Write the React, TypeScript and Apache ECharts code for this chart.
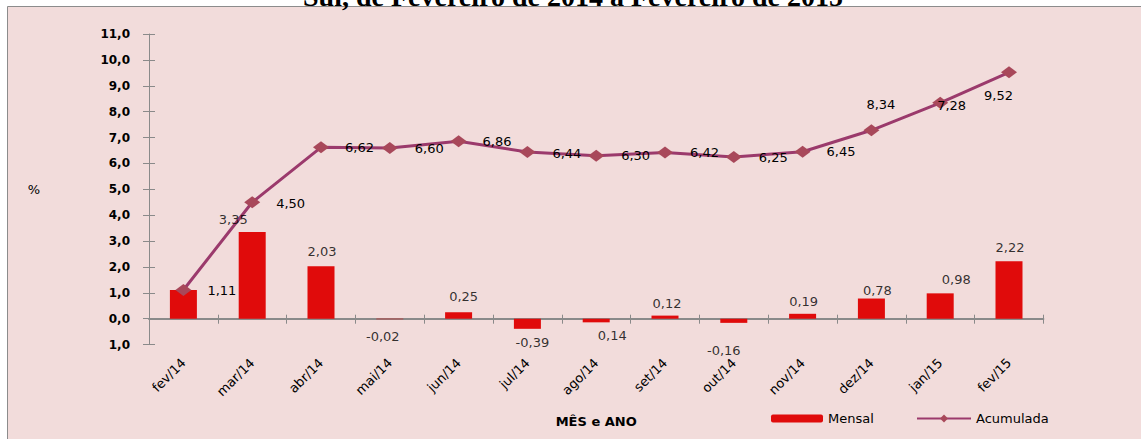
import React, { useEffect, useRef } from "react";
import * as echarts from "echarts";

const categories = ["fev/14", "mar/14", "abr/14", "mai/14", "jun/14", "jul/14", "ago/14", "set/14", "out/14", "nov/14", "dez/14", "jan/15", "fev/15"];
const mensal = [1.11, 3.35, 2.03, -0.02, 0.25, -0.39, -0.14, 0.12, -0.16, 0.19, 0.78, 0.98, 2.22];
const acumulada = [1.11, 4.5, 6.62, 6.6, 6.86, 6.44, 6.3, 6.42, 6.25, 6.45, 7.28, 8.34, 9.52];
const mensalLabels = ["", "3,35", "2,03", "-0,02", "0,25", "-0,39", "0,14", "0,12", "-0,16", "0,19", "0,78", "0,98", "2,22"];
const acumuladaLabels = ["1,11", "4,50", "6,62", "6,60", "6,86", "6,44", "6,30", "6,42", "6,25", "6,45", "8,34", "7,28", "9,52"];
const titleText = "Sul, de Fevereiro de 2014 a Fevereiro de 2015";

// label placement (offsets in px from the bar end / line point)
const mensalLabelOffsets = [
  [0, 0], [-19, -13], [1, -15], [-7, 17], [5, -16], [5, 14], [16, 13], [2, -12], [-10, 28], [1, -12], [6, -8], [16, -14], [1, -14],
];
const acumLabelOffsets = [
  [24, 1], [24, 1], [24, 0], [25, 1], [24, 0], [25, 1], [25, 0], [25, 0], [25, 1], [24, 0], [-5, -26], [-3, 3], [-25, 23],
];

const FONT = "DejaVu Sans";

export default function App() {
  const ref = useRef<HTMLDivElement>(null);
  useEffect(() => {
    if (!ref.current) return;
    const chart = echarts.init(ref.current, null, { renderer: "svg" });
    const fmt = (v: number) => Math.abs(v).toFixed(1).replace(".", ",");
    const option: any = {
      animation: false,
      backgroundColor: "#ffffff",
      graphic: [
        {
          type: "rect",
          z: -10,
          shape: { x: 7.5, y: 6.5, width: 1140, height: 440 },
          style: { fill: "#f2dcdb", stroke: "#8c8c8c", lineWidth: 1 },
        },
        {
          type: "text",
          z: 10,
          x: 573,
          y: -4,
          style: {
            text: titleText,
            fill: "#000",
            font: "bold 28px 'Liberation Serif'",
            align: "center",
            verticalAlign: "middle",
          },
        },
      ],
      grid: { left: 149, right: 97.6, top: 34, bottom: 94.4, containLabel: false },
      legend: [
        {
          data: ["Mensal"],
          left: 766,
          top: 407,
          itemWidth: 52,
          itemHeight: 8,
          itemGap: 0,
          textStyle: { fontFamily: FONT, fontSize: 13, color: "#000" },
        },
        {
          data: ["Acumulada"],
          left: 911,
          top: 407,
          itemWidth: 54,
          itemHeight: 10,
          textStyle: { fontFamily: FONT, fontSize: 13, color: "#000" },
        },
      ],
      xAxis: [
        {
          type: "category",
          data: categories,
          position: "bottom",
          axisLine: { onZero: true, lineStyle: { color: "#8a8a8a", width: 2 } },
          axisTick: { show: true, inside: false, length: 5, interval: 0, lineStyle: { color: "#8a8a8a" } },
          axisLabel: { show: false },
          splitLine: { show: false },
        },
        {
          type: "category",
          data: categories,
          position: "bottom",
          axisLine: { show: false, onZero: false },
          axisTick: { show: false },
          axisLabel: {
            show: true,
            interval: 0,
            rotate: 45,
            margin: 16,
            fontFamily: FONT,
            fontSize: 13,
            color: "#000",
          },
          name: "MÊS e ANO",
          nameLocation: "middle",
          nameGap: 70,
          nameTextStyle: { fontFamily: FONT, fontSize: 13, fontWeight: "bold", color: "#000" },
        },
        {
          type: "category",
          data: categories,
          position: "bottom",
          axisLine: { show: false, onZero: true },
          axisTick: { show: true, inside: true, length: 4, interval: 0, lineStyle: { color: "#8a8a8a" } },
          axisLabel: { show: false },
        },
      ],
      yAxis: [
        {
          type: "value",
          min: -1,
          max: 11,
          interval: 1,
          position: "left",
          axisLine: { show: true, lineStyle: { color: "#8a8a8a", width: 1 } },
          axisTick: { show: true, inside: false, length: 6, lineStyle: { color: "#8a8a8a" } },
          axisLabel: {
            margin: 19,
            formatter: fmt,
            fontFamily: FONT,
            fontSize: 12,
            fontWeight: "bold",
            color: "#000",
          },
          splitLine: { show: false },
          name: "%",
          nameLocation: "middle",
          nameRotate: 0,
          nameGap: 109,
          nameTextStyle: { fontFamily: FONT, fontSize: 13, color: "#000" },
        },
        {
          type: "value",
          min: -1,
          max: 11,
          interval: 1,
          position: "left",
          axisLine: { show: false },
          axisTick: { show: true, inside: true, length: 6, lineStyle: { color: "#8a8a8a" } },
          axisLabel: { show: false },
          splitLine: { show: false },
        },
      ],
      series: [
        {
          name: "Mensal",
          type: "bar",
          data: mensal,
          barWidth: 27,
          itemStyle: { color: "#e00b0b" },
          xAxisIndex: 0,
          yAxisIndex: 0,
          z: 2,
        },
        {
          name: "MensalRotulos",
          type: "scatter",
          silent: true,
          data: mensal.map((v, i) => ({
            value: v,
            label: {
              show: mensalLabels[i] !== "",
              formatter: mensalLabels[i],
              position: "inside",
              align: "center",
              verticalAlign: "middle",
              offset: mensalLabelOffsets[i],
            },
          })),
          symbolSize: 1,
          itemStyle: { color: "rgba(0,0,0,0)" },
          label: { fontFamily: FONT, fontSize: 13, color: "#000" },
          xAxisIndex: 0,
          yAxisIndex: 0,
          z: 5,
        },
        {
          name: "Acumulada",
          type: "line",
          data: acumulada.map((v, i) => ({
            value: v,
            label: {
              show: true,
              formatter: acumuladaLabels[i],
              position: "inside",
              align: "left",
              verticalAlign: "middle",
              offset: acumLabelOffsets[i],
            },
          })),
          symbol: "diamond",
          symbolSize: [16, 12],
          lineStyle: { color: "#9b3a6c", width: 3 },
          itemStyle: { color: "#a8485a" },
          label: { fontFamily: FONT, fontSize: 13, color: "#000" },
          xAxisIndex: 0,
          yAxisIndex: 0,
          z: 4,
        },
      ],
    };
    chart.setOption(option);
    return () => chart.dispose();
  }, []);
  return (
    <div
      ref={ref}
      style={{ position: "absolute", left: 0, top: 0, width: 1141, height: 439 }}
    />
  );
}
